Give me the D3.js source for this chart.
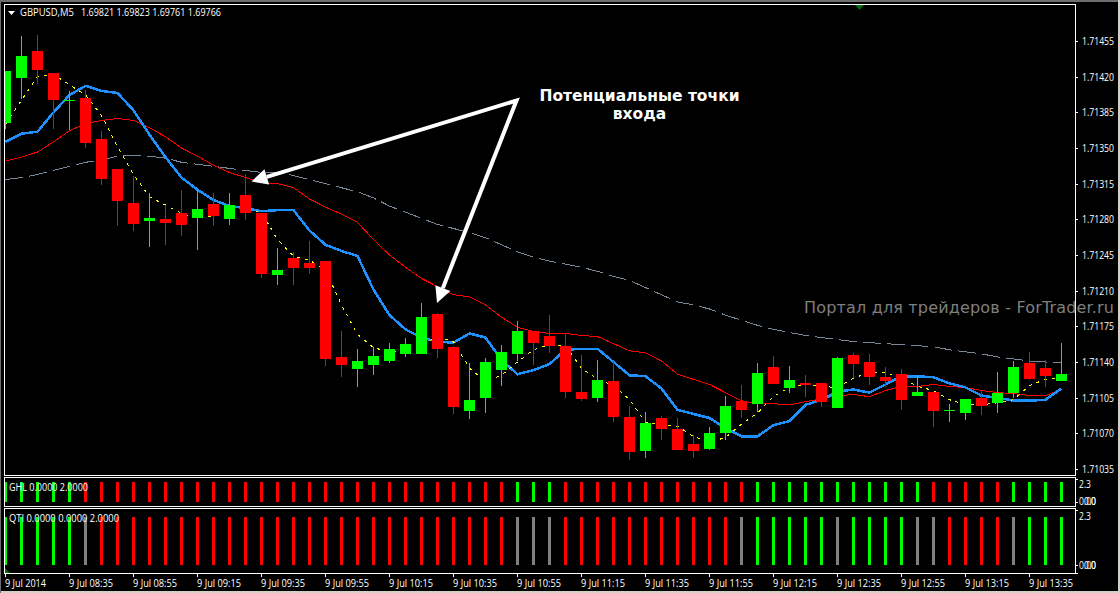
<!DOCTYPE html>
<html>
<head>
<meta charset="utf-8">
<title>GBPUSD M5</title>
<script src="https://cdn.jsdelivr.net/npm/d3@7"></script>
<style>
    html, body { margin: 0; padding: 0; background: #000; overflow: hidden; }
    svg { display: block; }
    text { font-family: "Open Sans", "DejaVu Sans", sans-serif; fill: #fff; white-space: pre; }
</style>
</head>
<body>
<svg id="chart" width="1120" height="593"></svg>
<script>
// Свечи GBPUSD M5
const open = [1.71375,1.71419,1.71445,1.71424,1.71396,1.71399,1.71359,1.71329,1.71296,1.71278,1.71280,1.71286,1.71281,1.71295,1.71280,1.71304,1.71286,1.71225,1.71242,1.71237,1.71239,1.71145,1.71133,1.71137,1.71141,1.71148,1.71148,1.71187,1.71155,1.71092,1.71105,1.71132,1.71148,1.71170,1.71166,1.71156,1.71111,1.71105,1.71121,1.71086,1.71053,1.71085,1.71074,1.71060,1.71055,1.71070,1.71102,1.71099,1.71135,1.71114,1.71119,1.71119,1.71095,1.71147,1.71140,1.71125,1.71128,1.71107,1.71111,1.71093,1.71090,1.71105,1.71100,1.71110,1.71139,1.71134,1.71121];
const high = [1.71426,1.71460,1.71461,1.71424,1.71406,1.71407,1.71367,1.71329,1.71323,1.71306,1.71294,1.71309,1.71309,1.71306,1.71306,1.71324,1.71286,1.71252,1.71248,1.71259,1.71239,1.71170,1.71153,1.71155,1.71159,1.71164,1.71198,1.71188,1.71156,1.71139,1.71144,1.71157,1.71180,1.71170,1.71186,1.71168,1.71147,1.71142,1.71141,1.71097,1.71091,1.71087,1.71085,1.71068,1.71076,1.71107,1.71117,1.71139,1.71146,1.71136,1.71127,1.71119,1.71145,1.71149,1.71148,1.71135,1.71133,1.71127,1.71111,1.71099,1.71104,1.71113,1.71130,1.71141,1.71150,1.71142,1.71159];
const low = [1.71369,1.71398,1.71413,1.71369,1.71368,1.71350,1.71314,1.71273,1.71269,1.71253,1.71255,1.71264,1.71250,1.71273,1.71274,1.71279,1.71222,1.71216,1.71216,1.71226,1.71136,1.71125,1.71115,1.71127,1.71139,1.71145,1.71148,1.71144,1.71089,1.71084,1.71090,1.71116,1.71141,1.71137,1.71149,1.71105,1.71102,1.71101,1.71081,1.71044,1.71046,1.71063,1.71054,1.71046,1.71054,1.71063,1.71085,1.71091,1.71118,1.71110,1.71106,1.71096,1.71095,1.71124,1.71117,1.71115,1.71093,1.71107,1.71076,1.71081,1.71083,1.71088,1.71090,1.71105,1.71122,1.71115,1.71121];
const close = [1.71426,1.71440,1.71427,1.71397,1.71397,1.71355,1.71320,1.71298,1.71275,1.71281,1.71276,1.71274,1.71290,1.71283,1.71294,1.71286,1.71226,1.71230,1.71232,1.71232,1.71143,1.71137,1.71141,1.71146,1.71153,1.71158,1.71184,1.71153,1.71096,1.71103,1.71140,1.71150,1.71170,1.71159,1.71156,1.71111,1.71104,1.71122,1.71086,1.71052,1.71080,1.71074,1.71054,1.71053,1.71070,1.71097,1.71093,1.71129,1.71118,1.71122,1.71117,1.71101,1.71144,1.71138,1.71125,1.71121,1.71103,1.71111,1.71092,1.71093,1.71104,1.71097,1.71110,1.71135,1.71123,1.71126,1.71128];

// Скользящие средние
const maBlue = [1.71356,1.71364,1.71366,1.71385,1.71402,1.71411,1.71406,1.71404,1.71387,1.71363,1.71341,1.71321,1.71309,1.71299,1.71293,1.71291,1.71288,1.71289,1.71289,1.71269,1.71255,1.71249,1.71244,1.71211,1.71186,1.71172,1.71164,1.71160,1.71159,1.71168,1.71164,1.71142,1.71128,1.71132,1.71138,1.71152,1.71153,1.71153,1.71140,1.71127,1.71126,1.71114,1.71093,1.71089,1.71085,1.71075,1.71067,1.71067,1.71078,1.71082,1.71098,1.71103,1.71111,1.71113,1.71110,1.71118,1.71126,1.71126,1.71125,1.71119,1.71115,1.71107,1.71105,1.71102,1.71102,1.71103,1.71114];
const maRed = [1.71337,1.71341,1.71346,1.71356,1.71367,1.71374,1.71377,1.71379,1.71377,1.71370,1.71361,1.71350,1.71342,1.71333,1.71326,1.71321,1.71316,1.71315,1.71311,1.71300,1.71292,1.71285,1.71277,1.71260,1.71245,1.71233,1.71222,1.71214,1.71206,1.71204,1.71196,1.71184,1.71174,1.71170,1.71168,1.71168,1.71166,1.71165,1.71158,1.71151,1.71149,1.71141,1.71128,1.71123,1.71118,1.71110,1.71102,1.71099,1.71099,1.71098,1.71101,1.71104,1.71107,1.71108,1.71106,1.71112,1.71116,1.71116,1.71118,1.71116,1.71115,1.71112,1.71110,1.71109,1.71107,1.71107,1.71113];
const maGray = [1.71319,1.71321,1.71324,1.71328,1.71332,1.71336,1.71338,1.71342,1.71343,1.71342,1.71340,1.71336,1.71334,1.71332,1.71330,1.71328,1.71326,1.71326,1.71323,1.71319,1.71315,1.71311,1.71307,1.71301,1.71293,1.71287,1.71281,1.71275,1.71271,1.71267,1.71262,1.71255,1.71248,1.71243,1.71239,1.71236,1.71233,1.71229,1.71224,1.71220,1.71213,1.71206,1.71199,1.71196,1.71192,1.71186,1.71181,1.71176,1.71172,1.71169,1.71166,1.71164,1.71162,1.71160,1.71159,1.71158,1.71157,1.71156,1.71155,1.71152,1.71150,1.71148,1.71145,1.71143,1.71141,1.71140,1.71139];
const maYellow = [1.71373,1.71397,1.71420,1.71422,1.71412,1.71402,1.71382,1.71351,1.71324,1.71302,1.71294,1.71286,1.71281,1.71283,1.71286,1.71288,1.71287,1.71260,1.71244,1.71240,1.71230,1.71196,1.71167,1.71154,1.71150,1.71150,1.71157,1.71165,1.71160,1.71134,1.71121,1.71127,1.71140,1.71152,1.71157,1.71156,1.71134,1.71123,1.71117,1.71103,1.71081,1.71078,1.71077,1.71067,1.71061,1.71066,1.71079,1.71090,1.71106,1.71115,1.71118,1.71116,1.71115,1.71124,1.71130,1.71130,1.71124,1.71116,1.71112,1.71103,1.71098,1.71098,1.71100,1.71103,1.71117,1.71123,1.71125];

// Нижние индикаторы: g = зелёный, r = красный, n = серый
const ghl = "gggggrrrrrrrrrrrrrrrrrrrrrrrrrrrgggrrrrrrrrrrrrgggggggggggrrrrrgggg".split("");
const qti = "gggggnrrrrrrrrrrrrrrrrrrrrrrrrrrnnnrrrrrrrrrrrngggggnggggnnrrrrngggg".split("");
const histValue = 2;

const priceTicks = [1.71455,1.71420,1.71385,1.71350,1.71315,1.71280,1.71245,1.71210,1.71175,1.71140,1.71105,1.71070,1.71035];
const timeLabels = ["9 Jul 2014","9 Jul 08:35","9 Jul 08:55","9 Jul 09:15","9 Jul 09:35","9 Jul 09:55","9 Jul 10:15","9 Jul 10:35","9 Jul 10:55","9 Jul 11:15","9 Jul 11:35","9 Jul 11:55","9 Jul 12:15","9 Jul 12:35","9 Jul 12:55","9 Jul 13:15","9 Jul 13:35"];

const symbolLabel = "GBPUSD,M5";
const ohlcLabel = "1.69821 1.69823 1.69761 1.69766";
const noteLines = ["Потенциальные точки", "входа"];
const watermark = "Портал для трейдеров - ForTrader.ru";

const COLORS = { g: "#00ff00", r: "#ff0000", n: "#808080", blue: "#1e90ff", gray: "#778899", yellow: "#ffff00", mark: "#0b6b0b" };

const svg = d3.select("#chart");
const left = 4, right = 1075;

// Шкалы
const x = d3.scaleLinear().domain([0, 66]).range([5.5, 1061.5]);
const y = d3.scaleLinear().domain([1.71455, 1.71035]).range([41, 469]);
const yGhl = d3.scaleLinear().domain([0, 2.3]).range([502, 479]);
const yQti = d3.scaleLinear().domain([0, 2.3]).range([565, 509.8]);

svg.append("defs").append("clipPath").attr("id", "main-clip")
    .append("rect").attr("x", left + 1).attr("y", 5).attr("width", right - left - 1).attr("height", 469);
svg.append("defs").append("clipPath").attr("id", "pane-clip")
    .append("rect").attr("x", left + 1).attr("y", 478).attr("width", right - left - 1).attr("height", 95);

// Подпись с заданной шириной, шрифт терминала уже доступных
function label(tx, ty, str, width, size = 11) {
    return svg.append("text").attr("x", tx).attr("y", ty).attr("font-size", size)
        .attr("textLength", width).attr("lengthAdjust", "spacingAndGlyphs").text(str);
}

// Рамка окна
svg.append("rect").attr("width", 1120).attr("height", 593).attr("fill", "#000");
svg.append("rect").attr("width", 1120).attr("height", 2).attr("fill", "#6e6e6e");
svg.append("rect").attr("y", 591).attr("width", 1120).attr("height", 2).attr("fill", "#d4d0c8");
svg.append("rect").attr("width", 1).attr("height", 593).attr("fill", "#6e6e6e");
svg.append("rect").attr("x", 1118).attr("width", 2).attr("height", 593).attr("fill", "#d4d0c8");

const main = svg.append("g").attr("clip-path", "url(#main-clip)");

// Линии средних
const line = d3.line().x((d, i) => x(i)).y(d => y(d));
main.append("path").datum(maGray).attr("d", line).attr("fill", "none").attr("shape-rendering", "crispEdges")
    .attr("stroke", COLORS.gray).attr("stroke-width", 1).attr("stroke-dasharray", "18,6");
main.append("path").datum(maRed).attr("d", line).attr("fill", "none").attr("shape-rendering", "crispEdges")
    .attr("stroke", COLORS.r).attr("stroke-width", 1);
main.append("path").datum(maBlue).attr("d", line).attr("fill", "none").attr("shape-rendering", "crispEdges")
    .attr("stroke", COLORS.blue).attr("stroke-width", 2.5);
main.append("path").datum(maYellow).attr("d", line).attr("fill", "none").attr("shape-rendering", "crispEdges")
    .attr("stroke", COLORS.yellow).attr("stroke-width", 1).attr("stroke-dasharray", "3,5");

// Свечи
const candles = d3.range(open.length).map(i => ({ i, o: open[i], h: high[i], l: low[i], c: close[i] }));
const candleColor = d => d.c >= d.o ? COLORS.g : COLORS.r;
const candle = main.selectAll(".candle").data(candles).enter().append("g").attr("class", "candle");
candle.append("line")
    .attr("x1", d => x(d.i)).attr("x2", d => x(d.i))
    .attr("y1", d => y(d.h)).attr("y2", d => y(d.l))
    .attr("stroke", candleColor).attr("stroke-width", 1).attr("shape-rendering", "crispEdges");
candle.append("rect")
    .attr("x", d => x(d.i) - 5.5).attr("width", 11)
    .attr("y", d => Math.min(y(d.o), y(d.c)))
    .attr("height", d => Math.max(Math.abs(y(d.o) - y(d.c)), 1))
    .attr("fill", candleColor).attr("shape-rendering", "crispEdges");

// Гистограммы индикаторов
const pane = svg.append("g").attr("clip-path", "url(#pane-clip)");
function drawHist(states, scale) {
    pane.append("g").selectAll("rect").data(states).enter().append("rect")
        .attr("x", (d, i) => x(i) - 1.5).attr("width", 3)
        .attr("y", scale(histValue)).attr("height", scale(0) - scale(histValue))
        .attr("fill", d => COLORS[d]).attr("shape-rendering", "crispEdges");
}
drawHist(ghl, yGhl);
drawHist(qti, yQti);

// Зелёные метки на краях
svg.append("path").attr("fill", COLORS.mark).attr("d", d3.line()([[855, 5], [864, 5], [859.5, 10]]));
svg.append("path").attr("fill", COLORS.mark).attr("d", d3.line()([[5, 568], [5, 573], [10, 573]]));

// Рамки панелей
[[4.5, 475.5], [477.5, 506.5], [508.5, 573.5]].forEach(([top, bottom]) => {
    svg.append("rect").attr("x", left + 0.5).attr("y", top)
        .attr("width", right - left).attr("height", bottom - top)
        .attr("fill", "none").attr("stroke", "#fff").attr("stroke-width", 1).attr("shape-rendering", "crispEdges");
});

// Ось цен
const priceAxis = svg.append("g");
function axisTick(ty) {
    priceAxis.append("line").attr("x1", right).attr("x2", right + 3).attr("y1", Math.round(ty) + 0.5).attr("y2", Math.round(ty) + 0.5)
        .attr("stroke", "#fff").attr("shape-rendering", "crispEdges");
}
priceTicks.forEach(p => {
    axisTick(y(p));
    label(1082, y(p) + 4, p.toFixed(5), 32, 10.5);
});

// Шкалы индикаторов: подписи нуля в оригинале наложены друг на друга
[[yGhl, 488, 505], [yQti, 520, 569]].forEach(([scale, topY, zeroY]) => {
    axisTick(scale(2.3));
    axisTick(scale(0));
    label(1079, topY, "2.3", 12);
    label(1079, zeroY, "0.00", 17);
    label(1084, zeroY, "0.0", 12);
});
axisTick(573);

// Ось времени
timeLabels.forEach((t, k) => {
    const tx = Math.floor(x(k * 4));
    svg.append("line").attr("x1", tx + 0.5).attr("x2", tx + 0.5).attr("y1", 573).attr("y2", 577)
        .attr("stroke", "#fff").attr("shape-rendering", "crispEdges");
    label(tx, 587, t, k === 0 ? 41 : 44);
});

// Заголовки
svg.append("path").attr("d", d3.line()([[8, 11], [15, 11], [11.5, 15]])).attr("fill", "#fff");
label(20, 16, symbolLabel, 54);
label(81, 16, ohlcLabel, 140);
label(9, 491, "GHL 0.0000 2.0000", 79);
label(9, 522, "QTI 0.0000 0.0000 2.0000", 110);

// Водяной знак и подпись
svg.append("text").attr("x", 804).attr("y", 313).attr("font-size", 16)
    .attr("textLength", 310).attr("lengthAdjust", "spacing")
    .style("font-family", "'DejaVu Sans'").style("fill", "#7f7f7f").text(watermark);
svg.selectAll(".note").data(noteLines).enter().append("text").attr("class", "note")
    .attr("x", 639.5).attr("y", (d, i) => 100.5 + i * 18.5).attr("text-anchor", "middle")
    .attr("font-size", 15.5).attr("font-weight", "bold").style("font-family", "'DejaVu Sans'").text(d => d);

// Стрелки к точкам входа
const arrowFrom = [516.5, 100.5];
const arrowTips = [[251.5, 181.5], [437, 303]];
const headLen = 16, headHalf = 8;
const arrowBases = arrowTips.map(tip => {
    const a = Math.atan2(tip[1] - arrowFrom[1], tip[0] - arrowFrom[0]);
    return { tip, a, base: [tip[0] - headLen * Math.cos(a), tip[1] - headLen * Math.sin(a)] };
});
svg.append("path").attr("fill", "none").attr("stroke", "#fff").attr("stroke-width", 4)
    .attr("stroke-linejoin", "miter").attr("stroke-miterlimit", 10)
    .attr("d", d3.line()([arrowBases[0].base, arrowFrom, arrowBases[1].base]));
arrowBases.forEach(({ tip, a, base }) => {
    svg.append("path").attr("fill", "#fff").attr("d", d3.line()([
        tip,
        [base[0] + headHalf * Math.sin(a), base[1] - headHalf * Math.cos(a)],
        [base[0] - headHalf * Math.sin(a), base[1] + headHalf * Math.cos(a)]
    ]));
});
</script>
</body>
</html>
